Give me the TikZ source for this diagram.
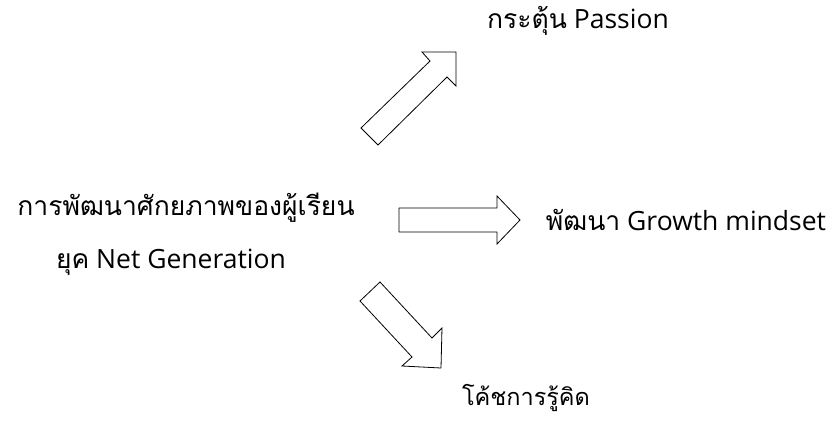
\documentclass[tikz,border=0pt]{standalone}
\usepackage{fontspec}
\setmainfont{Open Sans}
\newfontfamily\thaifont[Script=Thai]{Loma}
\begin{document}
\begin{tikzpicture}[x=1pt,y=-1pt,
  lbl/.style={font=\fontsize{26.5}{30}\selectfont, inner sep=0pt, anchor=base},
  blockarrow/.style={draw=black, line width=0.8pt, fill=white, line join=miter}]
\useasboundingbox (0,0) rectangle (836,424);
\node[lbl] (src1) at (186,215) {\thaifont การพัฒนาศักยภาพของผู้เรียน};
\node[lbl] (src2) at (171,268) {{\thaifont ยุค} Net Generation};
\node[lbl] (t1) at (578,28) {{\thaifont กระตุ้น} Passion};
\node[lbl] (t2) at (686,230) {{\thaifont พัฒนา} Growth mindset};
\node[lbl, font=\fontsize{23.5}{28}\selectfont] (t3) at (526,405) {\thaifont โค้ชการรู้คิด};
% up-right block arrow
\draw[blockarrow] (361,128) -- (430,61) -- (422,52) -- (456,52) -- (456,86) -- (447,77) -- (378,145) -- cycle;
% right block arrow
\draw[blockarrow] (399,208) -- (497,208) -- (497,196) -- (520,220) -- (497,244) -- (497,232) -- (399,232) -- cycle;
% down-right block arrow
\draw[blockarrow] (360,301) -- (380,282) -- (432,338) -- (442,328) -- (441,368) -- (402,366) -- (412,357) -- cycle;
\end{tikzpicture}
\end{document}
